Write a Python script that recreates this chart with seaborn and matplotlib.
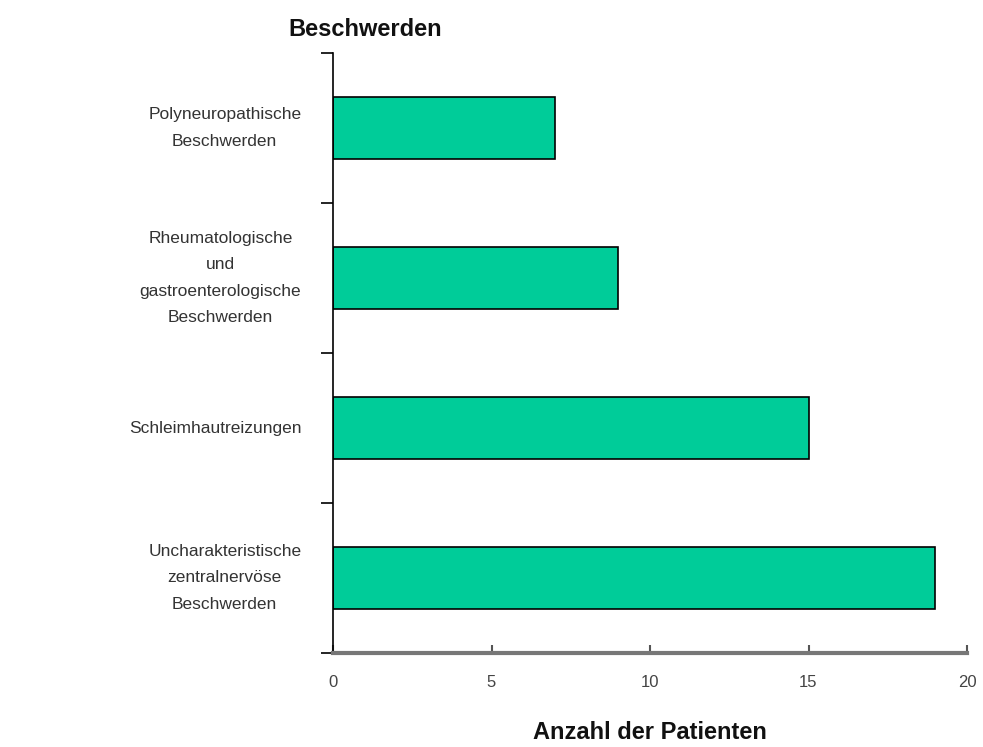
import matplotlib
matplotlib.use("Agg")
import matplotlib.pyplot as plt
import seaborn as sns
import pandas as pd

categories = [
    "Polyneuropathische\nBeschwerden",
    "Rheumatologische\nund\ngastroenterologische\nBeschwerden",
    "Schleimhautreizungen",
    "Uncharakteristische\nzentralnervöse\nBeschwerden",
]
values = [7, 9, 15, 19]
xticks = [0, 5, 10, 15, 20]

sns.set_style("white")
plt.rcParams["font.family"] = ["Liberation Sans", "DejaVu Sans"]

df = pd.DataFrame({"cat": categories, "val": values})

fig = plt.figure(figsize=(9.83, 7.47), dpi=100)
ax = fig.add_axes([333/983, (747-653)/747, (967-333)/983, 600/747])

sns.barplot(data=df, x="val", y="cat", orient="h", color="#00CC99",
            saturation=1, edgecolor="black", linewidth=1.2, width=0.41, ax=ax)

ax.set_xlim(0, 20)
ax.set_ylim(3.5, -0.5)
ax.set_xticks(xticks)
ax.set_xticklabels([str(t) for t in xticks], color="#444444", fontsize=12)
ax.tick_params(axis="x", bottom=True, direction="in", length=6, width=1.5,
               color="#555555", pad=16)

# y ticks at category boundaries
ax.set_yticks([-0.5, 0.5, 1.5, 2.5, 3.5])
ax.set_yticklabels([])
ax.tick_params(axis="y", left=True, direction="out", length=9, width=1.2, color="black")
for i, c in enumerate(categories):
    ax.text(-0.05, i, c, transform=ax.get_yaxis_transform(), ha="right", va="center",
            multialignment="center", fontsize=12.5, color="#333333", linespacing=1.95)

for s in ["top", "right"]:
    ax.spines[s].set_visible(False)
ax.spines["left"].set_color("black")
ax.spines["left"].set_linewidth(1.2)
ax.spines["bottom"].set_color("#777777")
ax.spines["bottom"].set_linewidth(3)

ax.set_ylabel("")
ax.set_xlabel("Anzahl der Patienten", fontsize=17, fontweight="bold", labelpad=22, color="#111111")
fig.text(365/983, 1 - 30/747, "Beschwerden", ha="center", va="center",
         fontsize=17, fontweight="bold", color="#111111")

fig.savefig("out.png", dpi=100, facecolor="white")
